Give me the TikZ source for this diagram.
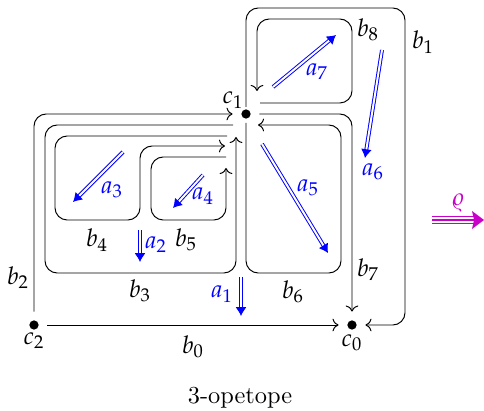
\documentclass[tikz,border=0pt]{standalone}
\usepackage{mathpazo}
\usetikzlibrary{arrows.meta,calc}
\definecolor{magc}{RGB}{200,0,200}
\tikzset{
  cell/.style={draw, ->, rounded corners=5pt, line width=0.4pt},
  dot/.style={circle, fill, inner sep=0pt, minimum size=3.8pt, outer sep=3.6pt},
  lab/.style={inner sep=0pt},
  bl/.style={draw=blue, double=white, double distance=0.8pt, line width=0.4pt, -{Latex[length=3.6pt,width=4.4pt]}},
  bll/.style={text=blue, inner sep=0pt}
}
\begin{document}
\begin{tikzpicture}[x=0.41pt,y=-0.41pt]
\useasboundingbox (0,0) rectangle (484,411);
% points
\node[dot] (c1) at (246,114) {};
\node[dot] (c2) at (34,325) {};
\node[dot] (c0) at (352,325) {};
\node[lab] (lc1) at (233,100) {$c_1$};
\node[lab] (lc2) at (34,341) {$c_2$};
\node[lab] (lc0) at (352,343) {$c_0$};
% outer edges
\draw[->] (c2) -- (c0);
\draw[cell] (c2) -- (c2 |- c1) -- (c1);
\draw[cell] (c1) -- (c0 |- c1) -- (c0);
\draw[cell] (246,107) -- (246,8) -- (405,8) -- (405,325) -- (c0);
% loops
\draw[cell] (260,103) -- (352,103) -- (352,19) -- (257,19) -- (257,91);
\draw[cell] (246,123) -- (246,273) -- (341,273) -- (341,125) -- (258,125);
\draw[cell] (233,125) -- (45,125) -- (45,273) -- (236,273) -- (236,137);
\draw[cell] (227,136) -- (55,136) -- (55,220) -- (140,220) -- (140,146) -- (225,146);
\draw[cell] (226,157) -- (151,157) -- (151,220) -- (226,220) -- (226,168);
% labels b
\node[lab] (lb0) at (193,347) {$b_0$};
\node[lab] (lb1) at (423,42) {$b_1$};
\node[lab] (lb2) at (18,278) {$b_2$};
\node[lab] (lb3) at (140,291) {$b_3$};
\node[lab] (lb4) at (97,240) {$b_4$};
\node[lab] (lb5) at (186,240) {$b_5$};
\node[lab] (lb6) at (293,292) {$b_6$};
\node[lab] (lb7) at (368,270) {$b_7$};
\node[lab] (lb8) at (368,30) {$b_8$};
% blue arrows
\coordinate (t7) at (273,87);  \coordinate (h7) at (336,35);
\coordinate (t6) at (382,50);  \coordinate (h6) at (365,158);
\coordinate (t5) at (262,144); \coordinate (h5) at (328,253);
\coordinate (t3) at (123,152); \coordinate (h3) at (73,202);
\coordinate (t4) at (203,175); \coordinate (h4) at (173,208);
\coordinate (t2) at (140,230); \coordinate (h2) at (140,262);
\coordinate (t1) at (241,277); \coordinate (h1) at (241,316);
\foreach \i in {1,...,7} {\draw[bl] (t\i) -- (h\i);}
\node[bll] (la7) at (317,72) {$a_7$};
\node[bll] (la6) at (373,172) {$a_6$};
\node[bll] (la5) at (308,188) {$a_5$};
\node[bll] (la3) at (112,190) {$a_3$};
\node[bll] (la4) at (203,196) {$a_4$};
\node[bll] (la2) at (156,245) {$a_2$};
\node[bll] (la1) at (222,294) {$a_1$};
% rho
\coordinate (rt) at (432,220);
\coordinate (rh) at (476,220);
\draw[magc, double=white, double distance=2.6pt, line width=0.5pt] (rt) -- (rh);
\draw[magc, line width=0.5pt] (rt) -- (rh);
\fill[magc] (484,220) -- (472,211) -- (474,220) -- (472,229) -- cycle;
\node[lab, text=magc] (lrho) at (458,203) {$\varrho$};
% caption
\node[lab] (cap) at (240,398) {3-opetope};
\end{tikzpicture}
\end{document}
